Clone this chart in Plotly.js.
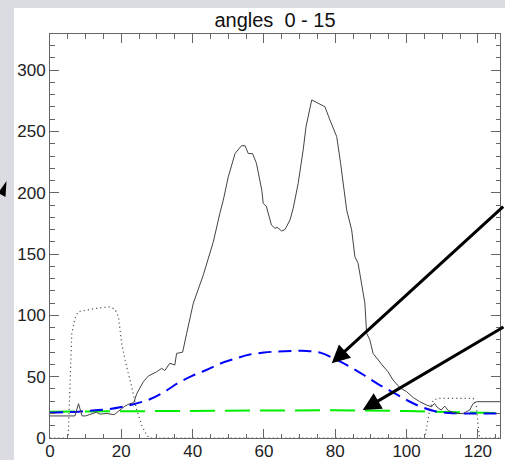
<!DOCTYPE html>
<html>
<head>
<meta charset="utf-8">
<script src="https://cdn.plot.ly/plotly-3.0.1.min.js"></script>
<style>html,body{margin:0;padding:0;background:#dadce1;}</style>
</head>
<body>
<div id="chart" style="width:505px;height:460px;"></div>
<script>
// Solid profile
const solidX = [0,7,8,9,10,13,14,16,18,20,21,22.4,23.5,24.3,26.2,27.6,29.9,31.3,32.2,33.6,35,35.5,37.2,38.3,40.2,43,45.8,47.7,48.6,50,51.9,53.7,54.7,55.6,56.8,57.9,59.4,59.8,60.7,62.1,63.1,63.7,65,65.9,67.3,68.2,69.6,71,71.8,73.4,74.3,77.1,78.5,80.4,81.5,83.2,84.6,85.5,86.4,88.3,88.8,89.7,90.6,92,93.4,94.8,96.2,98.1,100,101.9,103.7,105.6,107,107.8,108.6,109.7,110.7,111.7,114,115.9,117.7,118.7,119.6,126];
const solidY = [18,18,28,18,18,21,19.5,20,19,23.4,26,28,28.8,36,46,50.6,54,56.8,55,61,59.5,69,70,85,110,133,160,184,194,213,232,238.4,238.4,232,232,224,202,191.4,188.7,173.7,171,171.8,168.8,170,177.8,187.3,207.7,234.9,253.9,275.7,274.3,270.2,259.4,245.8,224,186,169.7,147.9,142.5,110,85.4,80,69,63.6,58.7,54,47.3,41,37.8,32.9,29.6,26.9,25.5,28.2,25,22.8,26,22.3,20,20,22.8,28.2,29.6,29.6];
// Dotted profile
const dotX = [0,5.1,6.1,7,7.9,13.1,16.8,18.2,19.2,20.1,21.5,22.9,24.3,25.7,27.1,28,105.1,106.5,107.5,108.9,118.7,119.6,120.1,120.5,126];
const dotY = [0,0,85,97.6,103,105.8,107,105,99,77,58,42,23,10.6,2.4,0,0,23,31,32.3,32.3,25.5,9,0,0];
// Blue dashed fit
const blueX = [0,4,8,12,16,20,24,28,32,36,40,44,48,52,56,60,64,68,72,76,80,84,88,92,96,100,104,108,112,116,120,126];
const blueY = [20.5,21,21.5,22.5,23.3,25.2,28,31.6,37.5,45,50.8,55.7,61,64.8,68.1,69.7,70.6,71,71,69.4,64.3,58.3,51.4,44,37.5,31,25.5,21.8,20.4,20,20,20];
// Green dashed baseline
const greenX = [0,20,40,60,80,100,110,126];
const greenY = [21.5,21.8,22.3,22.7,22.7,22,21.2,20.3];
// Arrow targets
const arrowX = [79, 87.7];
const arrowY = [60.9, 22.8];

const titleText = 'angles\u00a0\u00a00 - 15';

const traces = [
  {x: greenX, y: greenY, mode: 'lines', line: {color: '#00ee00', width: 2, dash: '25px,10px'}, hoverinfo: 'skip'},
  {x: blueX, y: blueY, mode: 'lines', line: {color: '#0000ff', width: 2, dash: '13px,7px', shape: 'spline'}, hoverinfo: 'skip'},
  {x: dotX, y: dotY, mode: 'lines', line: {color: '#555555', width: 1.2, dash: '1.2px,3px'}, hoverinfo: 'skip'},
  {x: solidX, y: solidY, mode: 'lines', line: {color: '#444444', width: 1}, hoverinfo: 'skip'}
];

const axisFont = {family: 'Liberation Sans, Arial, sans-serif', size: 17, color: '#222'};
const commonAxis = {
  showline: true, linecolor: '#666', linewidth: 1, mirror: 'ticks',
  ticks: 'inside', ticklen: 9, tickcolor: '#666', tickwidth: 1,
  showgrid: false, zeroline: false, tickfont: axisFont
};

const layout = {
  width: 505, height: 460,
  paper_bgcolor: '#dadce1', plot_bgcolor: '#ffffff',
  margin: {l: 50, r: 5, t: 34, b: 22},
  showlegend: false,
  title: {text: titleText, font: {family: 'Liberation Sans, Arial, sans-serif', size: 20, color: '#111'},
          x: 0.5, xref: 'paper', xanchor: 'center', y: 1 - 20/460, yref: 'container', yanchor: 'middle'},
  xaxis: Object.assign({}, commonAxis, {range: [0, 126.2], tick0: 0, dtick: 20, ticklabelstandoff: -2,
    minor: {ticks: 'inside', ticklen: 4.5, dtick: 5, tickcolor: '#666', showgrid: false}}),
  yaxis: Object.assign({}, commonAxis, {range: [0, 329.5], tick0: 0, dtick: 50,
    minor: {ticks: 'inside', ticklen: 4.5, dtick: 10, tickcolor: '#666', showgrid: false}}),
  shapes: [
    {type: 'rect', xref: 'paper', yref: 'paper', x0: -36/450, x1: 460/450, y0: -30/404, y1: 430/404,
     fillcolor: '#ffffff', line: {width: 0}, layer: 'below'},
    {type: 'path', xref: 'paper', yref: 'paper', layer: 'above',
     path: 'M ' + (-43.5/450) + ',' + (257/404) + ' L ' + (-44.5/450) + ',' + (241/404) + ' L ' + (-52/450) + ',' + (245/404) + ' Z',
     fillcolor: '#000000', line: {width: 0}}
  ],
  annotations: [
    {x: arrowX[0], y: arrowY[0], xref: 'x', yref: 'y', text: '', showarrow: true,
     arrowhead: 2, arrowsize: 1.2, arrowwidth: 3, arrowcolor: '#000', ax: 173, ay: -158},
    {x: arrowX[1], y: arrowY[1], xref: 'x', yref: 'y', text: '', showarrow: true,
     arrowhead: 2, arrowsize: 1.2, arrowwidth: 3, arrowcolor: '#000', ax: 143, ay: -84}
  ]
};

Plotly.newPlot('chart', traces, layout, {staticPlot: true, displayModeBar: false});
</script>
</body>
</html>
